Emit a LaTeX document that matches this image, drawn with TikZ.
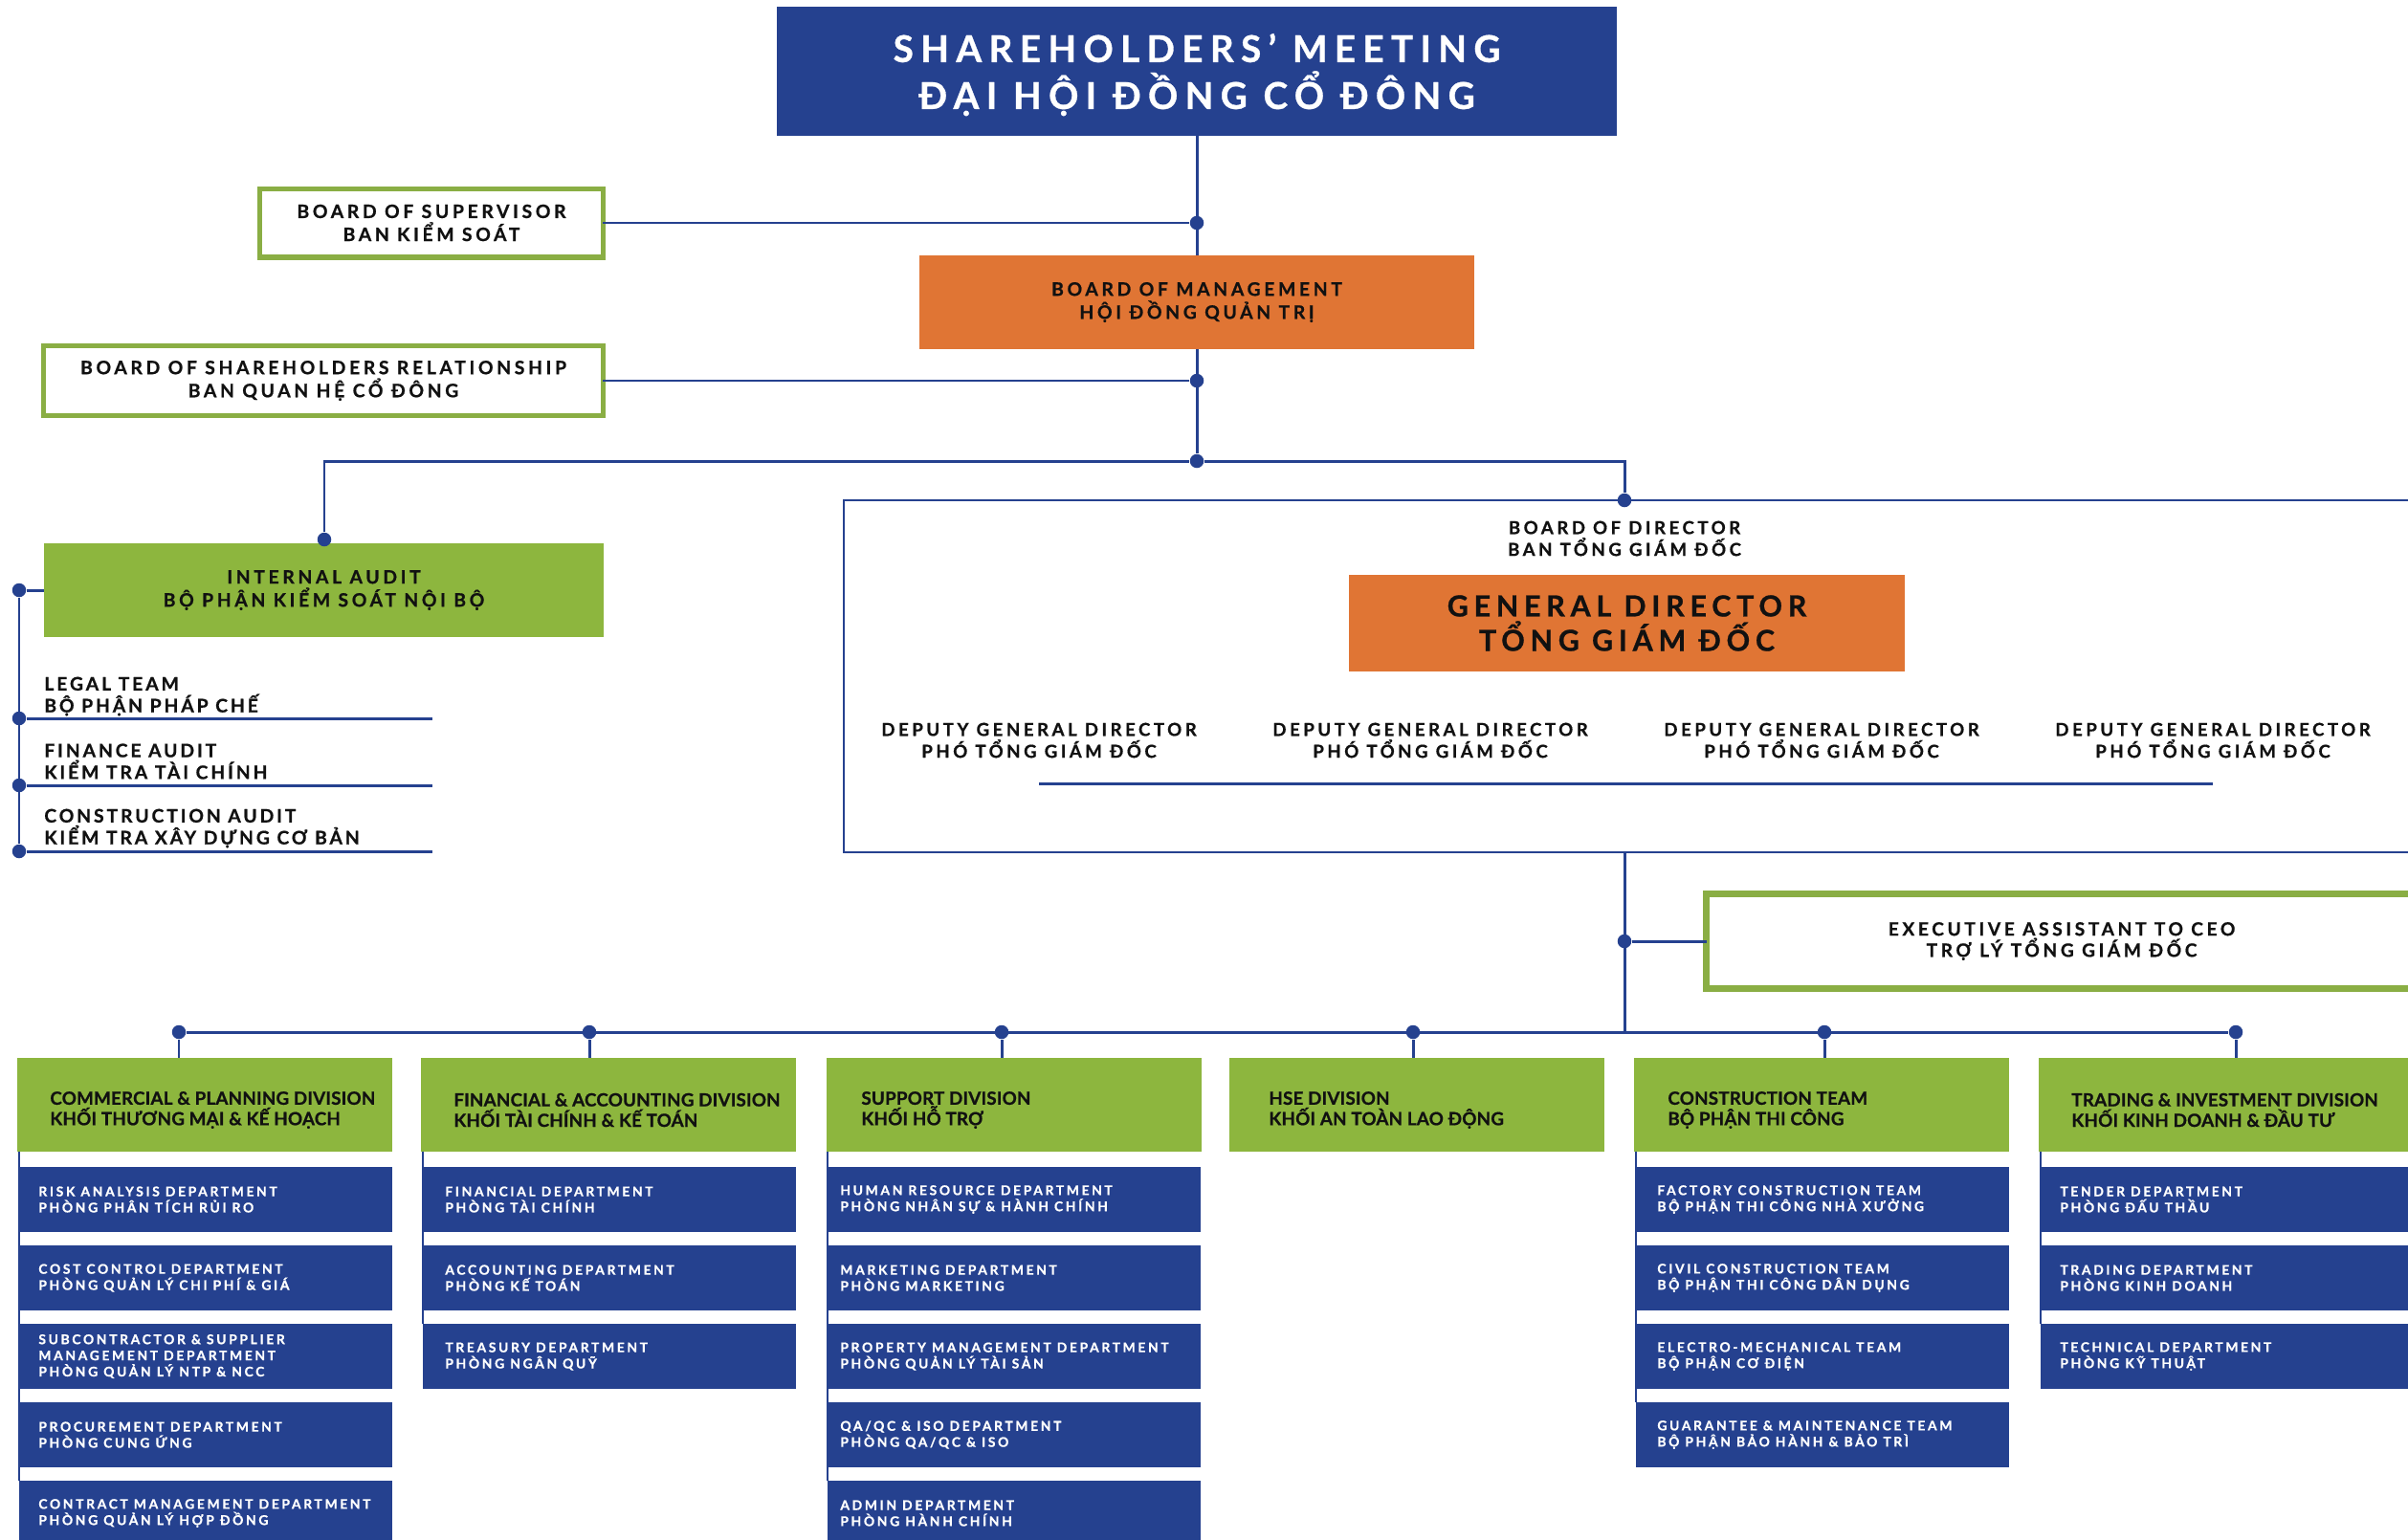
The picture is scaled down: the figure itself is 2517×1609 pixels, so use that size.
\documentclass[tikz,border=0pt]{standalone}
\usepackage{fontspec}
\setmainfont{Lato}
\newfontfamily\widefont{Lato}[LetterSpace=19, BoldFeatures={FakeBold=0.8}]
\newfontfamily\auditfont{Lato}[LetterSpace=15, BoldFeatures={FakeBold=0.8}]
\newfontfamily\narrowfont{Lato}[LetterSpace=1, BoldFeatures={FakeBold=0.8}]
\definecolor{navy}{HTML}{25418F}
\definecolor{orgorange}{HTML}{E07534}
\definecolor{leaf}{HTML}{8DB63E}
\definecolor{leafline}{HTML}{8AAE44}
\definecolor{ink}{HTML}{111111}
\tikzset{
  conn/.style={draw=navy, line width=1.7pt},
  frameline/.style={draw=navy, line width=1.4pt},
  spine/.style={draw=navy, line width=1pt},
  dot/.style={circle, fill=navy, inner sep=0pt, minimum size=0.29cm},
  box/.style={rectangle, inner sep=0pt, outer sep=0pt, align=center},
  bluebox/.style={box, fill=navy, text=white},
  orangebox/.style={box, fill=orgorange, text=ink},
  greenframe/.style={box, draw=leafline, line width=2.85pt, fill=white, text=ink},
  greenbox/.style={box, fill=leaf},
  deptbox/.style={box, fill=navy, minimum width=7.8cm, minimum height=1.36cm},
  divbox/.style={greenbox, minimum width=7.84cm, minimum height=1.96cm},
  midtext/.style={font=\widefont\bfseries\fontsize{11}{13.7}\selectfont},
  deputytext/.style={box, text=ink, font=\widefont\bfseries\fontsize{10.6}{13}\selectfont},
  divtext/.style={anchor=west, inner sep=0pt, align=left, text=ink, font=\narrowfont\bfseries\fontsize{10.7}{12.2}\selectfont},
  depttext/.style={anchor=west, inner sep=0pt, align=left, text=white, font=\widefont\bfseries\fontsize{7.9}{9.6}\selectfont},
  auditext/.style={anchor=west, inner sep=0pt, align=left, text=ink, font=\auditfont\bfseries\fontsize{11}{13}\selectfont}
}
\begin{document}
\begin{tikzpicture}[x=0.02cm, y=-0.02cm]
  \clip (0,0) rectangle (2517,1609);

  % top of the chart
  \node (shareholders) [bluebox, minimum width=17.58cm, minimum height=2.7cm, text depth=0pt, font=\widefont\bfseries\fontsize{22}{27.9}\selectfont] at (1251, 74.5) {SHAREHOLDERS’ MEETING\\ĐẠI HỘI ĐỒNG CỔ ĐÔNG};
  \node (supervisor) [greenframe, minimum width=7.18cm, minimum height=1.44cm, midtext] at (451, 233) {BOARD OF SUPERVISOR\\BAN KIỂM SOÁT};
  \node (management) [orangebox, minimum width=11.62cm, minimum height=1.96cm, midtext] at (1251, 316) {BOARD OF MANAGEMENT\\HỘI ĐỒNG QUẢN TRỊ};
  \node (shareholder-rel) [greenframe, minimum width=11.7cm, minimum height=1.46cm, midtext] at (338, 398) {BOARD OF SHAREHOLDERS RELATIONSHIP\\BAN QUAN HỆ CỔ ĐÔNG};
  \node (internal-audit) [greenbox, minimum width=11.7cm, minimum height=1.96cm, midtext, text=ink] at (338.5, 617) {INTERNAL AUDIT\\BỘ PHẬN KIỂM SOÁT NỘI BỘ};

  \node (d-sup) [dot] at (1251, 233) {};
  \node (d-rel) [dot] at (1251, 398) {};
  \node (d-split) [dot] at (1251, 482) {};
  \node (d-ia) [dot] at (339, 564) {};
  \node (d-bod) [dot] at (1698, 523) {};

  \draw[conn] (shareholders) -- (management);
  \draw[conn] (supervisor) -- (d-sup);
  \draw[conn] (management) -- (d-split);
  \draw[conn] (shareholder-rel) -- (d-rel);
  \draw[conn] (d-ia) |- (d-split) -| (d-bod);

  % audit teams
  \node (legal) [auditext] at (46, 728) {LEGAL TEAM\\BỘ PHẬN PHÁP CHẾ};
  \node (finance-audit) [auditext] at (46, 796) {FINANCE AUDIT\\KIỂM TRA TÀI CHÍNH};
  \node (constr-audit) [auditext] at (46, 866) {CONSTRUCTION AUDIT\\KIỂM TRA XÂY DỰNG CƠ BẢN};
  \node (d-ia-left) [dot] at (20, 617) {};
  \node (d-legal) [dot] at (20, 751) {};
  \node (d-finance) [dot] at (20, 821) {};
  \node (d-constr) [dot] at (20, 890) {};
  \coordinate (legal-end) at (452, 751);
  \coordinate (finance-end) at (452, 821);
  \coordinate (constr-end) at (452, 890);
  \draw[conn] (d-ia-left) -- (internal-audit);
  \draw[conn] (d-ia-left) -- (d-constr);
  \draw[conn] (d-legal) -- (legal-end);
  \draw[conn] (d-finance) -- (finance-end);
  \draw[conn] (d-constr) -- (constr-end);

  % board of director frame
  \coordinate (bod-tr) at (2530, 523);
  \coordinate (bod-tl) at (882, 523);
  \coordinate (bod-bl) at (882, 891);
  \coordinate (bod-br) at (2530, 891);
  \draw[frameline] (bod-tr) -- (bod-tl) -- (bod-bl) -- (bod-br);
  \node (bod-title) [deputytext] at (1698, 563) {BOARD OF DIRECTOR\\BAN TỔNG GIÁM ĐỐC};
  \node (general-dir) [orangebox, minimum width=11.62cm, minimum height=2.02cm, font=\widefont\bfseries\fontsize{17.3}{20.5}\selectfont] at (1700.5, 651.5) {GENERAL DIRECTOR\\TỔNG GIÁM ĐỐC};
  \node (deputy-1) [deputytext] at (1086, 774) {DEPUTY GENERAL DIRECTOR\\PHÓ TỔNG GIÁM ĐỐC};
  \node (deputy-2) [deputytext] at (1495, 774) {DEPUTY GENERAL DIRECTOR\\PHÓ TỔNG GIÁM ĐỐC};
  \node (deputy-3) [deputytext] at (1904, 774) {DEPUTY GENERAL DIRECTOR\\PHÓ TỔNG GIÁM ĐỐC};
  \node (deputy-4) [deputytext] at (2313, 774) {DEPUTY GENERAL DIRECTOR\\PHÓ TỔNG GIÁM ĐỐC};
  \coordinate (deputy-l) at (1086, 819);
  \coordinate (deputy-r) at (2313, 819);
  \draw[conn] (deputy-l) -- (deputy-r);

  % executive assistant
  \node (assistant) [greenframe, line width=4pt, minimum width=14.86cm, minimum height=1.98cm, font=\widefont\bfseries\fontsize{10.9}{12.6}\selectfont] at (2155, 984) {EXECUTIVE ASSISTANT TO CEO\\TRỢ LÝ TỔNG GIÁM ĐỐC};
  \coordinate (bod-foot) at (1698, 891);
  \node (d-ea) [dot] at (1698, 984) {};
  \coordinate (div-bus) at (1698, 1079);
  \draw[conn] (bod-foot) -- (div-bus);
  \draw[conn] (d-ea) -- (assistant);

  % divisions
  \node (div-cp) [divbox] at (214, 1155) {};
  \node (div-fa) [divbox] at (636, 1155) {};
  \node (div-sp) [divbox] at (1060, 1155) {};
  \node (div-hse) [divbox] at (1481, 1155) {};
  \node (div-ct) [divbox] at (1904, 1155) {};
  \node (div-ti) [divbox] at (2327, 1155) {};
  \node (div-cp-txt) [divtext] at ([xshift=0.68cm, yshift=-0.11cm]div-cp.west) {COMMERCIAL \& PLANNING DIVISION\\KHỐI THƯƠNG MẠI \& KẾ HOẠCH};
  \node (div-fa-txt) [divtext] at ([xshift=0.68cm, yshift=-0.11cm]div-fa.west) {FINANCIAL \& ACCOUNTING DIVISION\\KHỐI TÀI CHÍNH \& KẾ TOÁN};
  \node (div-sp-txt) [divtext] at ([xshift=0.72cm, yshift=-0.11cm]div-sp.west) {SUPPORT DIVISION\\KHỐI HỖ TRỢ};
  \node (div-hse-txt) [divtext] at ([xshift=0.82cm, yshift=-0.11cm]div-hse.west) {HSE DIVISION\\KHỐI AN TOÀN LAO ĐỘNG};
  \node (div-ct-txt) [divtext] at ([xshift=0.7cm, yshift=-0.11cm]div-ct.west) {CONSTRUCTION TEAM\\BỘ PHẬN THI CÔNG};
  \node (div-ti-txt) [divtext] at ([xshift=0.68cm, yshift=-0.11cm]div-ti.west) {TRADING \& INVESTMENT DIVISION\\KHỐI KINH DOANH \& ĐẦU TƯ};

  \node (d-cp) [dot] at (187, 1079) {};
  \node (d-fa) [dot] at (616, 1079) {};
  \node (d-sp) [dot] at (1047, 1079) {};
  \node (d-hse) [dot] at (1477, 1079) {};
  \node (d-ct) [dot] at (1907, 1079) {};
  \node (d-ti) [dot] at (2337, 1079) {};
  \draw[conn] (d-cp) -- (d-ti);
  \draw[conn] (d-cp) -- (d-cp |- div-cp.north);
  \draw[conn] (d-fa) -- (d-fa |- div-fa.north);
  \draw[conn] (d-sp) -- (d-sp |- div-sp.north);
  \draw[conn] (d-hse) -- (d-hse |- div-hse.north);
  \draw[conn] (d-ct) -- (d-ct |- div-ct.north);
  \draw[conn] (d-ti) -- (d-ti |- div-ti.north);

  % commercial & planning departments
  \node (cp-risk) [deptbox] at (215, 1254) {};
  \node (cp-cost) [deptbox] at (215, 1336) {};
  \node (cp-sub) [deptbox] at (215, 1418) {};
  \node (cp-proc) [deptbox] at (215, 1500) {};
  \node (cp-contract) [deptbox] at (215, 1582) {};
  \node (cp-risk-txt) [depttext] at ([xshift=0.4cm]cp-risk.west) {RISK ANALYSIS DEPARTMENT\\PHÒNG PHÂN TÍCH RỦI RO};
  \node (cp-cost-txt) [depttext] at ([xshift=0.4cm]cp-cost.west) {COST CONTROL DEPARTMENT\\PHÒNG QUẢN LÝ CHI PHÍ \& GIÁ};
  \node (cp-sub-txt) [depttext] at ([xshift=0.4cm]cp-sub.west) {SUBCONTRACTOR \& SUPPLIER\\MANAGEMENT DEPARTMENT\\PHÒNG QUẢN LÝ NTP \& NCC};
  \node (cp-proc-txt) [depttext] at ([xshift=0.4cm]cp-proc.west) {PROCUREMENT DEPARTMENT\\PHÒNG CUNG ỨNG};
  \node (cp-contract-txt) [depttext] at ([xshift=0.4cm]cp-contract.west) {CONTRACT MANAGEMENT DEPARTMENT\\PHÒNG QUẢN LÝ HỢP ĐỒNG};
  \draw[spine] (cp-risk.west |- div-cp.south) -- (cp-contract.north west);

  % financial & accounting departments
  \node (fa-fin) [deptbox] at (637, 1254) {};
  \node (fa-acc) [deptbox] at (637, 1336) {};
  \node (fa-tre) [deptbox] at (637, 1418) {};
  \node (fa-fin-txt) [depttext] at ([xshift=0.46cm]fa-fin.west) {FINANCIAL DEPARTMENT\\PHÒNG TÀI CHÍNH};
  \node (fa-acc-txt) [depttext] at ([xshift=0.46cm]fa-acc.west) {ACCOUNTING DEPARTMENT\\PHÒNG KẾ TOÁN};
  \node (fa-tre-txt) [depttext] at ([xshift=0.46cm]fa-tre.west) {TREASURY DEPARTMENT\\PHÒNG NGÂN QUỸ};
  \draw[spine] (fa-fin.west |- div-fa.south) -- (fa-tre.north west);

  % support departments
  \node (sp-hr) [deptbox] at (1060, 1254) {};
  \node (sp-mkt) [deptbox] at (1060, 1336) {};
  \node (sp-prop) [deptbox] at (1060, 1418) {};
  \node (sp-qa) [deptbox] at (1060, 1500) {};
  \node (sp-admin) [deptbox] at (1060, 1582) {};
  \node (sp-hr-txt) [depttext] at ([xshift=0.26cm]sp-hr.west) {HUMAN RESOURCE DEPARTMENT\\PHÒNG NHÂN SỰ \& HÀNH CHÍNH};
  \node (sp-mkt-txt) [depttext] at ([xshift=0.26cm]sp-mkt.west) {MARKETING DEPARTMENT\\PHÒNG MARKETING};
  \node (sp-prop-txt) [depttext] at ([xshift=0.26cm]sp-prop.west) {PROPERTY MANAGEMENT DEPARTMENT\\PHÒNG QUẢN LÝ TÀI SẢN};
  \node (sp-qa-txt) [depttext] at ([xshift=0.26cm]sp-qa.west) {QA/QC \& ISO DEPARTMENT\\PHÒNG QA/QC \& ISO};
  \node (sp-admin-txt) [depttext] at ([xshift=0.26cm]sp-admin.west) {ADMIN DEPARTMENT\\PHÒNG HÀNH CHÍNH};
  \draw[spine] (sp-hr.west |- div-sp.south) -- (sp-admin.north west);

  % construction teams
  \node (ct-factory) [deptbox] at (1905, 1254) {};
  \node (ct-civil) [deptbox] at (1905, 1336) {};
  \node (ct-me) [deptbox] at (1905, 1418) {};
  \node (ct-guar) [deptbox] at (1905, 1500) {};
  \node (ct-factory-txt) [depttext] at ([xshift=0.44cm]ct-factory.west) {FACTORY CONSTRUCTION TEAM\\BỘ PHẬN THI CÔNG NHÀ XƯỞNG};
  \node (ct-civil-txt) [depttext] at ([xshift=0.44cm]ct-civil.west) {CIVIL CONSTRUCTION TEAM\\BỘ PHẬN THI CÔNG DÂN DỤNG};
  \node (ct-me-txt) [depttext] at ([xshift=0.44cm]ct-me.west) {ELECTRO-MECHANICAL TEAM\\BỘ PHẬN CƠ ĐIỆN};
  \node (ct-guar-txt) [depttext] at ([xshift=0.44cm]ct-guar.west) {GUARANTEE \& MAINTENANCE TEAM\\BỘ PHẬN BẢO HÀNH \& BẢO TRÌ};
  \draw[spine] (ct-factory.west |- div-ct.south) -- (ct-guar.north west);

  % trading & investment departments
  \node (ti-tender) [deptbox] at (2328, 1254) {};
  \node (ti-trade) [deptbox] at (2328, 1336) {};
  \node (ti-tech) [deptbox] at (2328, 1418) {};
  \node (ti-tender-txt) [depttext] at ([xshift=0.4cm]ti-tender.west) {TENDER DEPARTMENT\\PHÒNG ĐẤU THẦU};
  \node (ti-trade-txt) [depttext] at ([xshift=0.4cm]ti-trade.west) {TRADING DEPARTMENT\\PHÒNG KINH DOANH};
  \node (ti-tech-txt) [depttext] at ([xshift=0.4cm]ti-tech.west) {TECHNICAL DEPARTMENT\\PHÒNG KỸ THUẬT};
  \draw[spine] (ti-tender.west |- div-ti.south) -- (ti-tech.north west);
\end{tikzpicture}
\end{document}
